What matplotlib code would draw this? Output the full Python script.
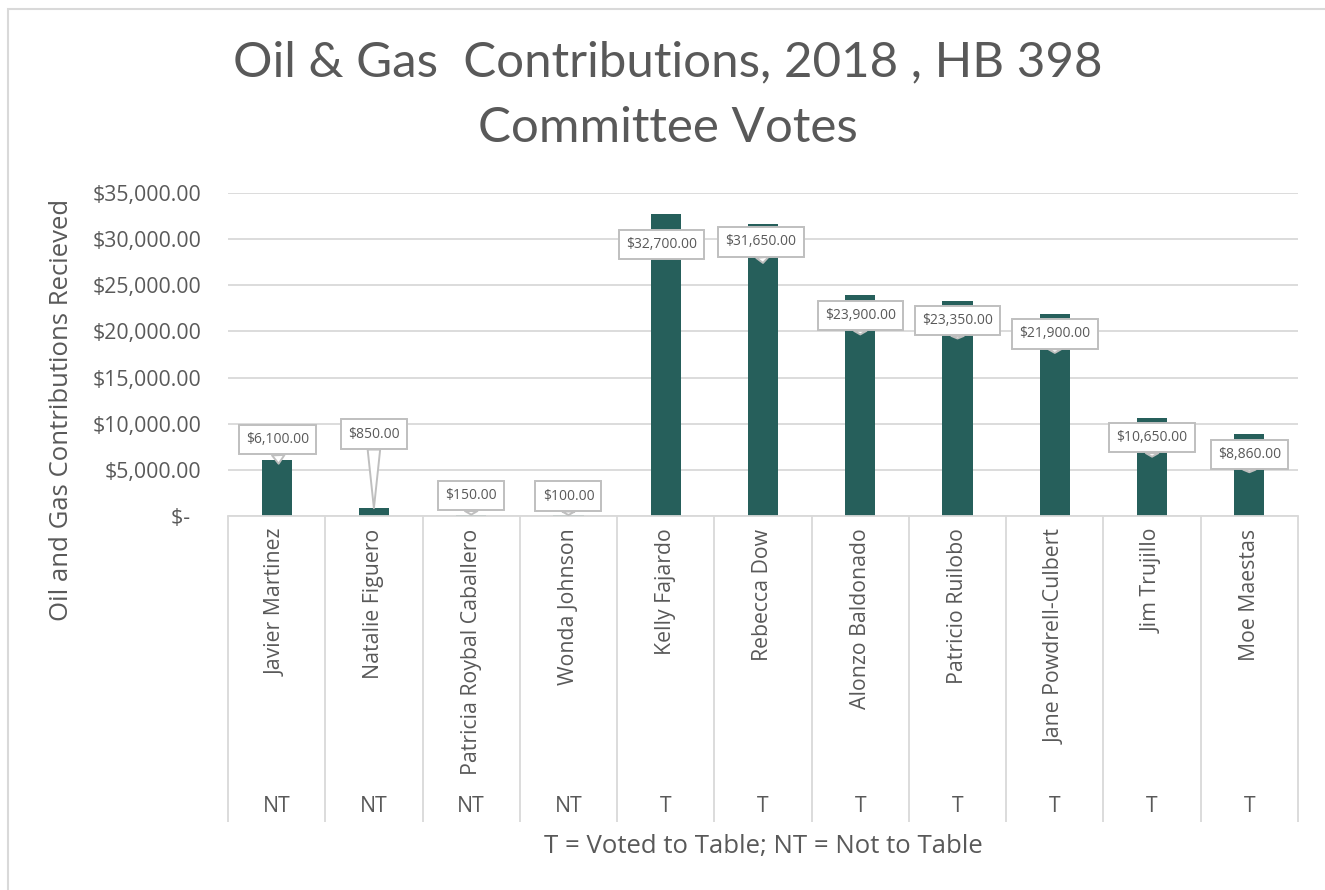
import matplotlib.pyplot as plt
from matplotlib import transforms
from matplotlib.patches import Rectangle

# Data
names = ['Javier Martinez', 'Natalie Figuero', 'Patricia Roybal Caballero', 'Wonda Johnson',
         'Kelly Fajardo', 'Rebecca Dow', 'Alonzo Baldonado', 'Patricio Ruilobo',
         'Jane Powdrell-Culbert', 'Jim Trujillo', 'Moe Maestas']
votes = ['NT', 'NT', 'NT', 'NT', 'T', 'T', 'T', 'T', 'T', 'T', 'T']
contributions = [6100, 850, 150, 100, 32700, 31650, 23900, 23350, 21900, 10650, 8860]
y_ticks = [0, 5000, 10000, 15000, 20000, 25000, 30000, 35000]

# callout placement (box offset / tip offset from bar top, in pixels)
box_off = [(1, 20), (0, 74), (0, 19), (0, 19), (-4, -30), (-2, -18), (0, -20), (0, -20), (0, -20), (0, -20), (0, -20)]
tip_off = [(2, -4), (0, 0), (0, 0), (0, 0), (-3, -44), (0, -39), (0, -39), (0, -38), (0, -39), (0, -39), (0, -38)]

text_col = '#595959'
grid_col = '#d9d9d9'
bar_col = '#265f5b'
font = 'Open Sans'

fig = plt.figure(figsize=(13.25, 8.9), dpi=100)
ax = fig.add_axes([228 / 1325, 1 - 516 / 890, 1070 / 1325, 323 / 890])

x = list(range(len(names)))
ax.bar(x, contributions, width=0.31, color=bar_col, zorder=2)
ax.set_xlim(-0.5, len(names) - 0.5)
ax.set_ylim(0, 35000)

# y axis
ax.set_yticks(y_ticks)
ax.set_yticklabels(['$-  '] + ['${:,.2f}'.format(v) for v in y_ticks[1:]],
                   fontsize=15.3, color=text_col, family=font)
ax.tick_params(axis='y', length=0, pad=19)
ax.yaxis.grid(True, color=grid_col, linewidth=1.3, zorder=0)
for s in ['top', 'right', 'left']:
    ax.spines[s].set_visible(False)
ax.spines['bottom'].set_color(grid_col)
ax.spines['bottom'].set_linewidth(1.3)

# category axis: names
ax.set_xticks(x)
ax.set_xticklabels(names, rotation=90, fontsize=15.3, color=text_col, family=font, va='top')
ax.tick_params(axis='x', length=0, pad=9)

# second level (vote) and separators
trans = transforms.blended_transform_factory(ax.transData, ax.transAxes)
for i, v in enumerate(votes):
    ax.text(i, -0.90, v, transform=trans, ha='center', va='center',
            fontsize=15.3, color=text_col, family=font)
ax.vlines([i - 0.5 for i in range(len(names) + 1)], -0.947, 0, transform=trans,
          colors=grid_col, linewidth=1.3, clip_on=False)

# callout labels
for i, v in enumerate(contributions):
    tdx, tdy = tip_off[i]
    bdx, bdy = box_off[i]
    tip_tr = transforms.offset_copy(ax.transData, fig=fig, x=tdx, y=tdy, units='dots')
    ax.annotate('${:,.2f}'.format(v), xy=(i, v), xycoords=tip_tr,
                xytext=((bdx - tdx) * 0.72, (bdy - tdy) * 0.72), textcoords='offset points',
                ha='center', va='center', fontsize=10, color=text_col, family=font,
                bbox=dict(boxstyle='square,pad=0.52', fc='white', ec='#bfbfbf', lw=1.4),
                arrowprops=dict(arrowstyle='wedge,tail_width=0.9,shrink_factor=0.5',
                                fc='white', ec='#bfbfbf', lw=1.4, shrinkA=0, shrinkB=0),
                zorder=3, annotation_clip=False)

# titles
fig.text(668 / 1325, 1 - 95 / 890, 'Oil & Gas  Contributions, 2018 , HB 398\nCommittee Votes',
         ha='center', va='center', fontsize=35.5, color=text_col, family='Lato', linespacing=1.6)
fig.text(62 / 1325, 1 - 410 / 890, 'Oil and Gas Contributions Recieved', rotation=90,
         ha='center', va='center', fontsize=18.5, color=text_col, family=font)
fig.text(763 / 1325, 1 - 846 / 890, 'T = Voted to Table; NT = Not to Table',
         ha='center', va='center', fontsize=18.5, color=text_col, family=font)

# chart border
fig.patches.append(Rectangle((8 / 1325, -0.1), 1.2, 1 - 9 / 890 + 0.1, transform=fig.transFigure,
                             fill=False, ec=grid_col, lw=1.5))

fig.savefig('out.png', dpi=100)
